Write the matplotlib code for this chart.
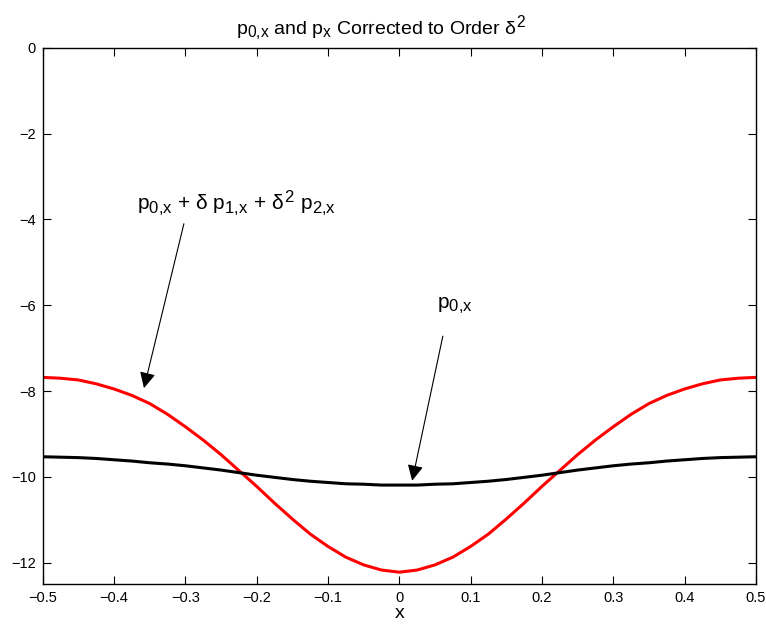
import numpy as np
import matplotlib
matplotlib.use('Agg')
import matplotlib.pyplot as plt
import matplotlib._mathtext as mathtext_internal

# MATLAB draws sub/superscripts larger than matplotlib does
mathtext_internal.SHRINK_FACTOR = 0.8

plt.rcParams['font.family'] = ['Liberation Sans', 'DejaVu Sans']
plt.rcParams['mathtext.fontset'] = 'custom'
plt.rcParams['mathtext.rm'] = 'Liberation Sans'
plt.rcParams['mathtext.it'] = 'Liberation Sans'
plt.rcParams['mathtext.bf'] = 'Liberation Sans:bold'

# x grid
xVals = [-0.5, -0.475, -0.45, -0.425, -0.4, -0.375, -0.35, -0.325, -0.3, -0.275,
         -0.25, -0.225, -0.2, -0.175, -0.15, -0.125, -0.1, -0.075, -0.05, -0.025,
         0.0, 0.025, 0.05, 0.075, 0.1, 0.125, 0.15, 0.175, 0.2, 0.225,
         0.25, 0.275, 0.3, 0.325, 0.35, 0.375, 0.4, 0.425, 0.45, 0.475, 0.5]

# p_{0,x} (black)
p0x = [-9.53, -9.54, -9.55, -9.57, -9.60, -9.63, -9.67, -9.70, -9.74, -9.79,
       -9.84, -9.90, -9.96, -10.01, -10.06, -10.10, -10.13, -10.16, -10.17, -10.19,
       -10.19, -10.19, -10.17, -10.16, -10.13, -10.10, -10.06, -10.01, -9.96, -9.90,
       -9.84, -9.79, -9.74, -9.70, -9.67, -9.63, -9.60, -9.57, -9.55, -9.54, -9.53]

# p_{0,x} + delta p_{1,x} + delta^2 p_{2,x} (red)
pxCorr = [-7.68, -7.70, -7.74, -7.83, -7.95, -8.10, -8.29, -8.54, -8.83, -9.14,
          -9.48, -9.85, -10.22, -10.61, -10.98, -11.33, -11.62, -11.87, -12.05, -12.17,
          -12.22, -12.17, -12.05, -11.87, -11.62, -11.33, -10.98, -10.61, -10.22, -9.85,
          -9.48, -9.14, -8.83, -8.54, -8.29, -8.10, -7.95, -7.83, -7.74, -7.70, -7.68]

xTicks = [-0.5, -0.4, -0.3, -0.2, -0.1, 0, 0.1, 0.2, 0.3, 0.4, 0.5]
xTickLabels = ['\u22120.5', '\u22120.4', '\u22120.3', '\u22120.2', '\u22120.1', '0',
               '0.1', '0.2', '0.3', '0.4', '0.5']
yTicks = [-12, -10, -8, -6, -4, -2, 0]
yTickLabels = ['\u221212', '\u221210', '\u22128', '\u22126', '\u22124', '\u22122', '0']

fig = plt.figure(figsize=(7.66, 6.35), dpi=100)
ax = fig.add_axes([0.0557, 0.080, 0.9312, 0.8447])

ax.plot(xVals, pxCorr, color='#ff0000', linewidth=2.2, solid_joinstyle='round')
ax.plot(xVals, p0x, color='black', linewidth=2.2, solid_joinstyle='round')

ax.set_xlim(-0.5, 0.5)
ax.set_ylim(-12.5, 0)
ax.set_xticks(xTicks)
ax.set_xticklabels(xTickLabels)
ax.set_yticks(yTicks)
ax.set_yticklabels(yTickLabels)
ax.tick_params(direction='in', length=6, width=0.8, top=True, right=True,
               labelsize=10.5, pad=5)
for spine in ax.spines.values():
    spine.set_linewidth(1.0)

ax.set_xlabel('x', fontsize=14, labelpad=0)
ax.set_title(r'p$_{0{,}x}$ and p$_x$ Corrected to Order $\delta^2$', fontsize=14,
             pad=10, x=0.475)

arrowKw = dict(arrowstyle='-|>', color='black', lw=0.8, mutation_scale=24,
               shrinkA=0, shrinkB=0)

ax.annotate('', xy=(0.018, -10.09), xytext=(0.061, -6.72), arrowprops=arrowKw)
ax.text(0.053, -6.05, r'p$_{0{,}x}$', fontsize=15, ha='left', va='baseline')

ax.annotate('', xy=(-0.358, -7.93), xytext=(-0.302, -4.10), arrowprops=arrowKw)
ax.text(-0.368, -3.78, r'p$_{0{,}x}$ + $\delta$ p$_{1{,}x}$ + $\delta^2$ p$_{2{,}x}$',
        fontsize=15, ha='left', va='baseline')

plt.savefig('out.png', dpi=100)
